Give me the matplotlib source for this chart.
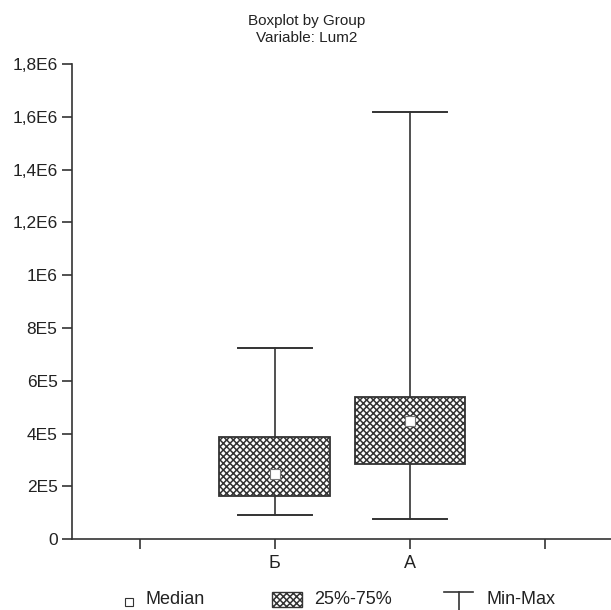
import matplotlib
matplotlib.use('Agg')
import matplotlib.pyplot as plt
from matplotlib.patches import Rectangle
from matplotlib.lines import Line2D

# данные
groups = ['Б', 'А']
positions = [2, 3]
medians = [2.46e5, 4.47e5]
q25 = [1.63e5, 2.84e5]
q75 = [3.87e5, 5.38e5]
mins = [0.91e5, 0.76e5]
maxs = [7.24e5, 1.62e6]

xticks = [1, 2, 3, 4]
xticklabels = ['', 'Б', 'А', '']
yticks = [0, 2e5, 4e5, 6e5, 8e5, 1e6, 1.2e6, 1.4e6, 1.6e6, 1.8e6]
yticklabels = ['0', '2E5', '4E5', '6E5', '8E5', '1E6', '1,2E6', '1,4E6', '1,6E6', '1,8E6']

plt.rcParams['font.family'] = ['Liberation Sans', 'DejaVu Sans']
plt.rcParams['hatch.linewidth'] = 1.1
col = '#333333'
hatch = 'xxxxx'

fig = plt.figure(figsize=(6.11, 6.10), dpi=100)
ax = fig.add_axes([0.118, 0.116, 0.885, 0.779])

stats = []
for i in range(len(groups)):
    stats.append({'med': medians[i], 'q1': q25[i], 'q3': q75[i],
                  'whislo': mins[i], 'whishi': maxs[i], 'mean': medians[i],
                  'label': groups[i]})

ax.bxp(stats, positions=positions, widths=0.82, patch_artist=True,
       showmeans=True, showfliers=False,
       boxprops=dict(facecolor='white', edgecolor=col, linewidth=1.3, hatch=hatch),
       whiskerprops=dict(color=col, linewidth=1.2),
       capprops=dict(color=col, linewidth=1.4),
       capwidths=0.55,
       medianprops=dict(linewidth=0),
       meanprops=dict(marker='s', markersize=6.5, markerfacecolor='white',
                      markeredgecolor='#777777', markeredgewidth=0.8))

ax.set_xlim(0.5, 4.5)
ax.set_ylim(0, 1.8e6)
ax.set_xticks(xticks)
ax.set_xticklabels(xticklabels, fontsize=13)
ax.set_yticks(yticks)
ax.set_yticklabels(yticklabels, fontsize=12.5)
for s in ['top', 'right']:
    ax.spines[s].set_visible(False)
for s in ['left', 'bottom']:
    ax.spines[s].set_color(col)
    ax.spines[s].set_linewidth(1.2)
ax.tick_params(axis='both', colors=col, length=7, width=1.2, labelcolor='#222222')
ax.tick_params(axis='x', pad=4)

fig.text(0.502, 0.952, 'Boxplot by Group\nVariable: Lum2', ha='center', va='center',
         fontsize=11, color='#222222', linespacing=1.3)

# легенда внизу
ly = 0.017
fig.add_artist(Rectangle((0.204, 0.006), 0.014, 0.014, transform=fig.transFigure,
                         facecolor='white', edgecolor='#333333', linewidth=0.8))
fig.text(0.238, ly, 'Median', fontsize=13, color='#222222', va='center')
fig.add_artist(Rectangle((0.445, 0.005), 0.049, 0.024, transform=fig.transFigure,
                         facecolor='white', edgecolor='#333333', linewidth=1.0, hatch=hatch))
fig.text(0.514, ly, '25%-75%', fontsize=13, color='#222222', va='center')
fig.add_artist(Line2D([0.727, 0.774], [0.030, 0.030], transform=fig.transFigure,
                      color=col, linewidth=1.2))
fig.add_artist(Line2D([0.751, 0.751], [0.030, 0.0], transform=fig.transFigure,
                      color=col, linewidth=1.2))
fig.text(0.797, ly, 'Min-Max', fontsize=13, color='#222222', va='center')

fig.savefig('out.png', dpi=100)
